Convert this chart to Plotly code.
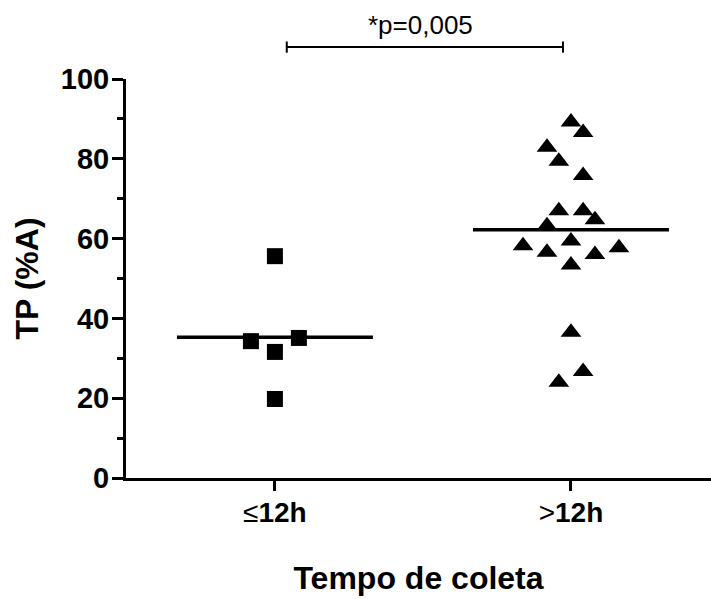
import plotly.graph_objects as go

# ---- data ----
categories = ["≤12h", ">12h"]

le12_values = [55.6, 34.3, 35.1, 31.6, 19.8]
le12_offsets = [0.0, -0.081, 0.081, 0.0, 0.0]

gt12_values = [89.2, 86.6, 82.9, 79.4, 75.8, 67.0, 67.0, 64.7, 63.2,
               59.4, 58.2, 57.7, 56.6, 56.0, 53.4, 36.5, 26.7, 24.0]
gt12_offsets = [0.0, 0.041, -0.081, -0.041, 0.041, -0.041, 0.041, 0.081, -0.081,
                0.0, -0.162, 0.162, -0.081, 0.081, 0.0, 0.0, 0.041, -0.041]

group_means = [35.3, 62.2]
p_text = "*p=0,005"

y_tickvals = [0, 20, 40, 60, 80, 100]
y_minor_tickvals = [10, 30, 50, 70, 90]

FONT = "Liberation Sans, Arial, sans-serif"

fig = go.Figure()

fig.add_trace(go.Scatter(
    x=[0 + o for o in le12_offsets], y=le12_values, mode="markers",
    marker=dict(symbol="square", size=16, color="black", line=dict(width=0)),
    showlegend=False, cliponaxis=False))

fig.add_trace(go.Scatter(
    x=[1 + o for o in gt12_offsets], y=gt12_values, mode="markers",
    marker=dict(symbol="triangle-up", size=18, color="black", line=dict(width=0)),
    showlegend=False, cliponaxis=False))

half = 0.331
for i, m in enumerate(group_means):
    fig.add_trace(go.Scatter(
        x=[i - half, i + half], y=[m, m], mode="lines",
        line=dict(color="black", width=3.5), showlegend=False))

# significance bracket
bx0, bx1, by = 0.04, 0.973, 1.08
fig.add_shape(type="line", xref="x", yref="paper", x0=bx0, x1=bx1, y0=by, y1=by,
              line=dict(color="black", width=2))
for bx in (bx0, bx1):
    fig.add_shape(type="line", xref="x", yref="paper", x0=bx, x1=bx, y0=by - 0.014, y1=by + 0.014,
                  line=dict(color="black", width=2))
fig.add_annotation(x=0.493, xref="x", y=1.135, yref="paper", text=p_text, showarrow=False,
                   xanchor="center", yanchor="middle",
                   font=dict(family=FONT, size=26, color="black"))

ticktext = ["<span style='font-weight:normal'>%s</span>%s" % (c[0], c[1:]) for c in categories]

fig.update_layout(
    width=711, height=599,
    margin=dict(l=126, r=0, t=79, b=121),
    plot_bgcolor="white", paper_bgcolor="white",
    font=dict(family=FONT, color="black"),
    xaxis=dict(
        range=[-0.503, 1.473], tickvals=[0, 1], ticktext=ticktext,
        showgrid=False, zeroline=False, showline=True, linecolor="black", linewidth=3,
        ticks="outside", ticklen=10, tickwidth=3, tickcolor="black",
        ticklabelstandoff=-3,
        tickfont=dict(family=FONT, size=28, color="black", weight="bold"),
        title=dict(text="Tempo de coleta", standoff=41,
                   font=dict(family=FONT, size=32, color="black", weight="bold")),
    ),
    yaxis=dict(
        range=[0, 100], tickvals=y_tickvals,
        showgrid=False, zeroline=False, showline=True, linecolor="black", linewidth=3,
        ticks="outside", ticklen=11, tickwidth=3, tickcolor="black",
        ticklabelstandoff=-3,
        minor=dict(tickvals=y_minor_tickvals, ticks="outside", ticklen=6, tickwidth=3, tickcolor="black"),
        tickfont=dict(family=FONT, size=29, color="black", weight="bold"),
        title=dict(text="TP (%A)", standoff=13,
                   font=dict(family=FONT, size=32, color="black", weight="bold")),
    ),
)

fig.write_html("out.html")
